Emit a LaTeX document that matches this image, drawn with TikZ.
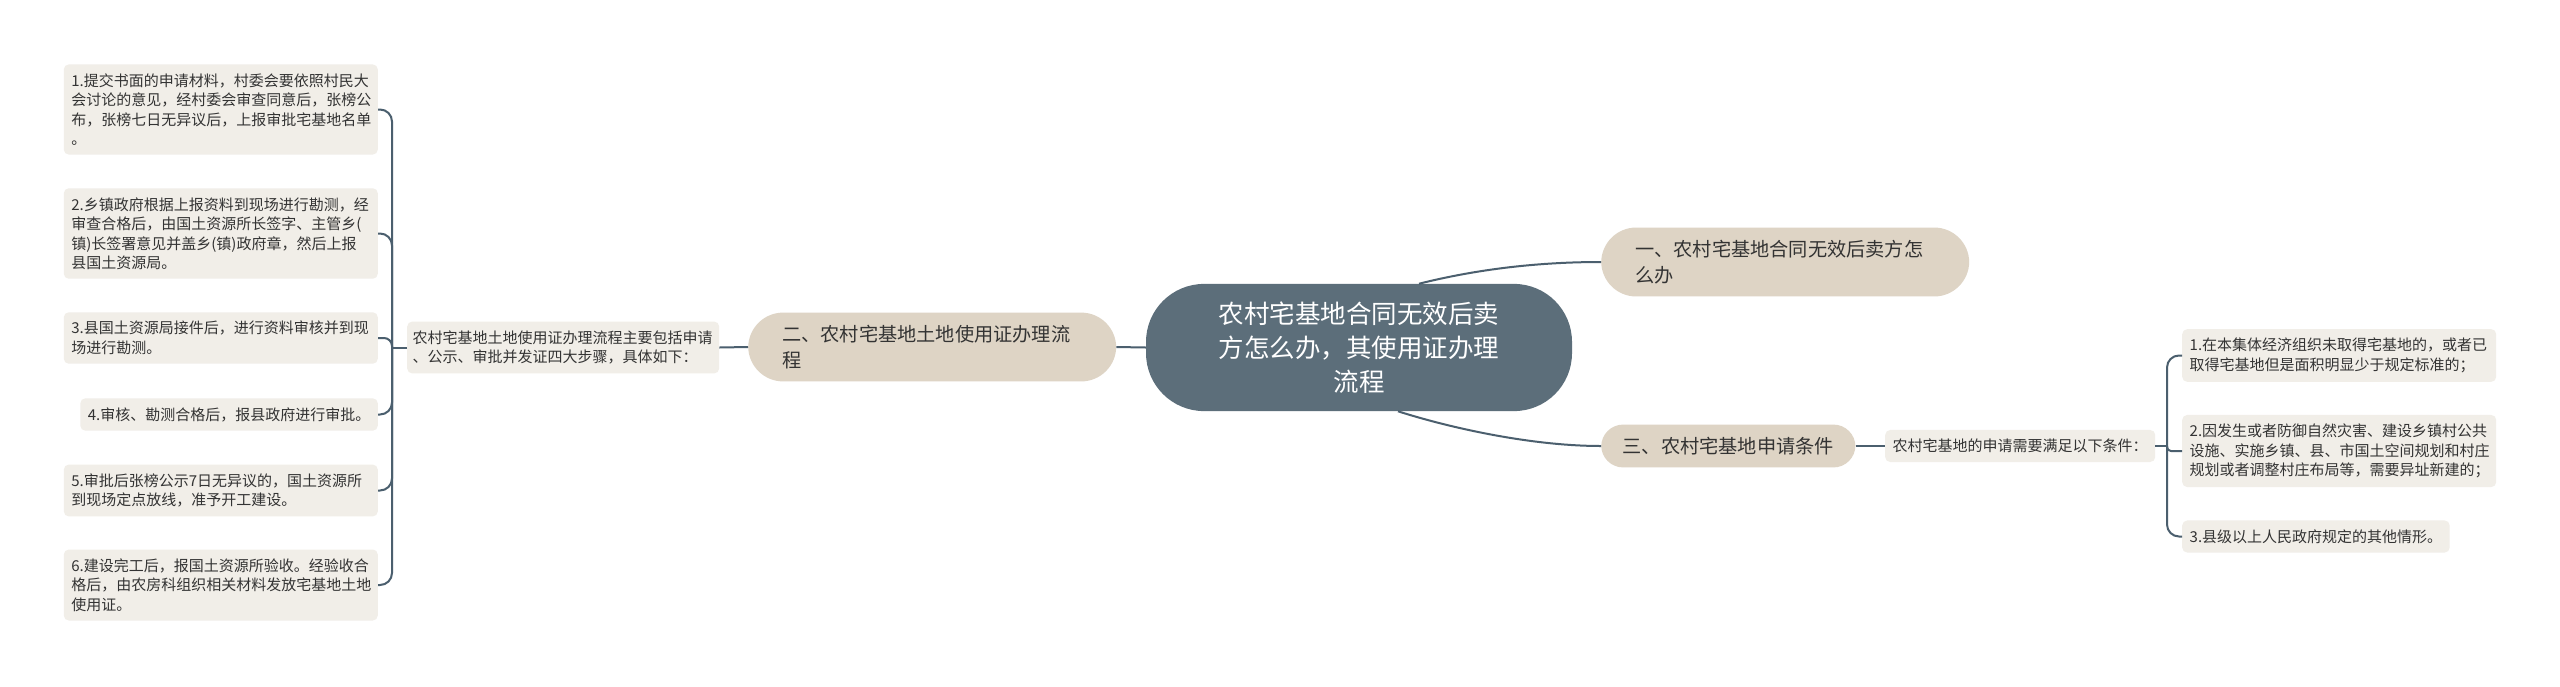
\documentclass[tikz,border=0pt]{standalone}
\usepackage{fontspec}
\setmainfont{Noto Sans CJK SC}
\definecolor{linkc}{HTML}{4B5F6E}
\definecolor{rootc}{HTML}{5C6E7A}
\definecolor{pillc}{HTML}{DED4C5}
\definecolor{leafc}{HTML}{F1EEE8}
\definecolor{textc}{HTML}{333333}
\begin{document}
\begin{tikzpicture}[x=1pt,y=-1pt,
    link/.style={draw=linkc,line width=2pt},
    leaf/.style={fill=leafc,text=textc,rounded corners=5pt,align=left,
      inner xsep=7.5pt,inner ysep=9pt,font=\fontsize{15}{19.5}\selectfont},
    wide/.style={text width=299pt},
    pill/.style={fill=pillc,text=textc,rounded corners=#1,align=left,
      inner xsep=34pt,inner ysep=12.5pt,font=\fontsize{19.2}{26}\selectfont},
    pill/.default=35pt,
    root/.style={fill=rootc,text=white,rounded corners=58pt,align=center,
      inner xsep=72.75pt,inner ysep=17.75pt,font=\fontsize{25.5}{34}\selectfont}]
  \path[use as bounding box,fill=white] (0,0) rectangle (2560,686);
  % centre and main branches
  \node[root] (c) at (1359,347.5) {农村宅基地合同无效后卖\\方怎么办，其使用证办理\\流程};
  \node[pill,text width=300pt,anchor=west] (s1) at (1601,262) {一、农村宅基地合同无效后卖方怎\\么办};
  \node[pill,text width=300pt,anchor=west] (s2) at (748,347) {二、农村宅基地土地使用证办理流\\程};
  \node[pill=22pt,inner xsep=21.5pt,anchor=west] (s3) at (1601,446) {三、农村宅基地申请条件};
  % left side
  \node[leaf,text width=301pt,inner xsep=5.5pt,anchor=west] (m) at (407,347.5)
    {农村宅基地土地使用证办理流程主要包括申请\\、公示、审批并发证四大步骤，具体如下：};
  \node[leaf,wide,anchor=east] (l1) at (378,109.5)
    {1.提交书面的申请材料，村委会要依照村民大\\会讨论的意见，经村委会审查同意后，张榜公\\布，张榜七日无异议后，上报审批宅基地名单\\。};
  \node[leaf,wide,anchor=east] (l2) at (378,233.5)
    {2.乡镇政府根据上报资料到现场进行勘测，经\\审查合格后，由国土资源所长签字、主管乡(\\镇)长签署意见并盖乡(镇)政府章，然后上报\\县国土资源局。};
  \node[leaf,wide,anchor=east] (l3) at (378,338)
    {3.县国土资源局接件后，进行资料审核并到现\\场进行勘测。};
  \node[leaf,anchor=east] (l4) at (378,414.5) {4.审核、勘测合格后，报县政府进行审批。};
  \node[leaf,wide,anchor=east] (l5) at (378,490.5)
    {5.审批后张榜公示7日无异议的，国土资源所\\到现场定点放线，准予开工建设。};
  \node[leaf,wide,anchor=east] (l6) at (378,585)
    {6.建设完工后，报国土资源所验收。经验收合\\格后，由农房科组织相关材料发放宅基地土地\\使用证。};
  \coordinate (bl) at (392,347.5);
  % right side
  \node[leaf,anchor=west] (t3) at (1885,446) {农村宅基地的申请需要满足以下条件：};
  \node[leaf,wide,anchor=west] (r1) at (2182,355.5)
    {1.在本集体经济组织未取得宅基地的，或者已\\取得宅基地但是面积明显少于规定标准的；};
  \node[leaf,wide,anchor=west] (r2) at (2182,451)
    {2.因发生或者防御自然灾害、建设乡镇村公共\\设施、实施乡镇、县、市国土空间规划和村庄\\规划或者调整村庄布局等，需要异址新建的；};
  \node[leaf,anchor=west] (r3) at (2182,536.5) {3.县级以上人民政府规定的其他情形。};
  \coordinate (br) at (2167,446);
  % connectors
  \draw[link] (c.west) -- (s2.east);
  \draw[link] ([xshift=60]c.north) .. controls +(60,-15) and +(-61,0) .. (s1.west);
  \draw[link] ([xshift=39]c.south) .. controls +(50,16) and +(-71,0) .. (s3.west);
  \draw[link] (s2.west) -- (m.east);
  \draw[link] (m.west) -- (bl);
  \foreach \n/\r in {l1/12,l2/12,l3/8,l4/12,l5/12,l6/12}
    \draw[link,rounded corners=\r pt] (bl) |- (\n.east);
  \draw[link] (s3.east) -- (t3.west);
  \draw[link] (t3.east) -- (br);
  \foreach \n/\r in {r1/12,r2/4,r3/12}
    \draw[link,rounded corners=\r pt] (br) |- (\n.west);
\end{tikzpicture}
\end{document}
